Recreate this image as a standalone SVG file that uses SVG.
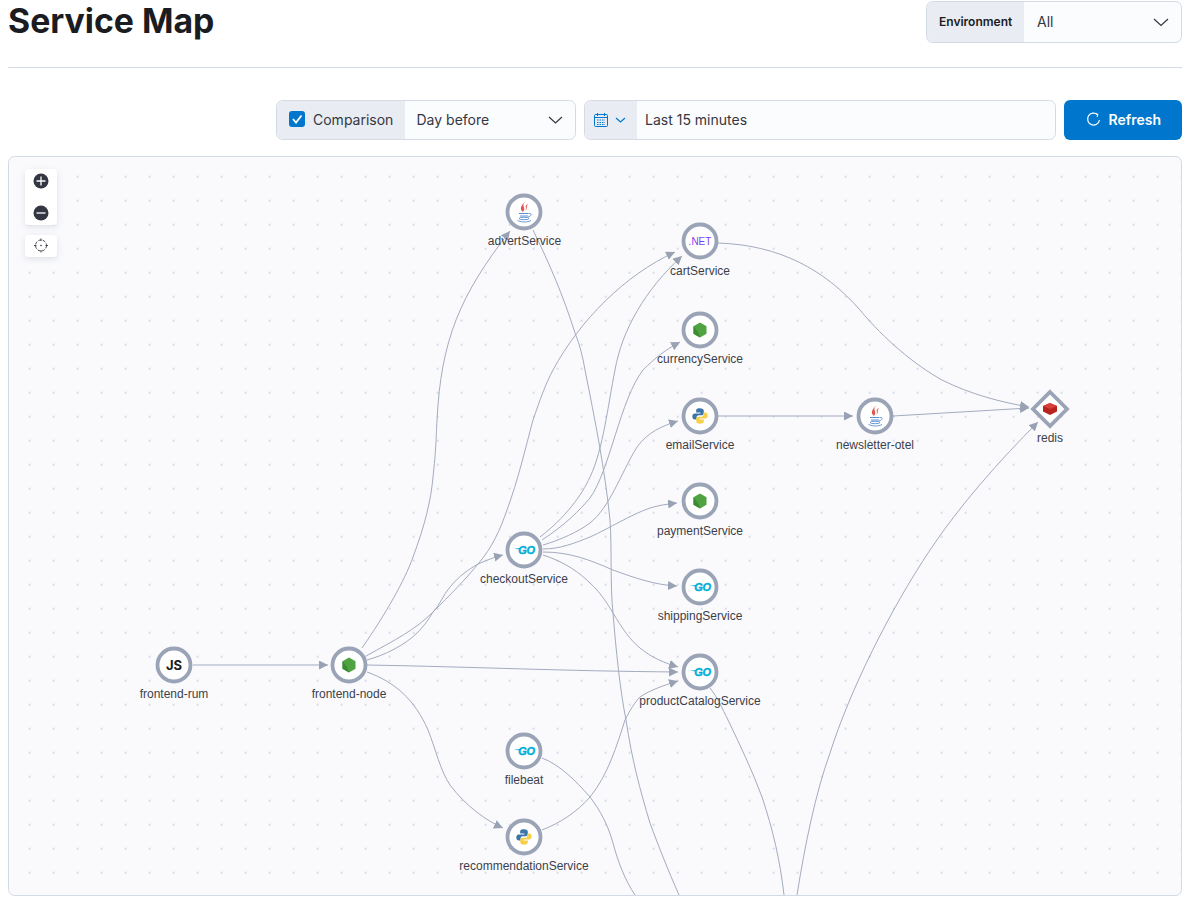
<svg xmlns="http://www.w3.org/2000/svg" width="1186" height="900" viewBox="0 0 1186 900">
<style>
.ui{font-family:Inter,"Liberation Sans",sans-serif;font-size:14px;fill:#343741}
.lbl{font-family:"Liberation Sans",Arial,sans-serif;font-size:12px;fill:#3c3f4a;text-anchor:middle}
.ring{fill:#fff;stroke:#9aa4b6;stroke-width:3.8}
.edge{fill:none;stroke:#a3abbd;stroke-width:1;marker-end:url(#arrow)}
.open{fill:none;stroke:#a3abbd;stroke-width:1}
.box{fill:#fbfcfd;stroke:#d3dae6;stroke-width:1}
.pre{fill:#e9edf3}
.chev{fill:none;stroke:#343741;stroke-width:1.2}
.go{font-family:"Liberation Sans",Arial,sans-serif;font-size:11px;font-weight:700;font-style:italic;fill:#00add8;stroke:#00add8;stroke-width:.35;text-anchor:middle;letter-spacing:-.2px}
.ctl{fill:#fff;filter:url(#sh)}
</style>
<defs>
<pattern id="dots" x="-6.3" y="-3.3" width="24" height="24" patternUnits="userSpaceOnUse"><circle cx="12" cy="12" r="1" fill="#cdd3e0"/></pattern>
<marker id="arrow" markerUnits="userSpaceOnUse" markerWidth="11" markerHeight="10" refX="9" refY="4.5" orient="auto"><path d="M0 0L9 4.500L0 9Z" fill="#98a2b3"/></marker>
<filter id="sh" x="-30%" y="-30%" width="160%" height="160%"><feDropShadow dx="0" dy="2" stdDeviation="3" flood-color="#98a2b3" flood-opacity="0.3"/></filter>
<g id="node-ic"><path d="M0-7.500L6.500-3.800V3.800L0 7.500L-6.500 3.800V-3.800Z" fill="#4fa341"/><path d="M0 7.500L-6.500 3.800V-3.800L-2 2Z" fill="#3d8a35"/></g>
<g id="java-ic"><path d="M2-10C-4-5 3-4-1 1C-5-2-3-6 2-10Z" fill="#e0574f"/><path d="M4-7C-1-5 4-3 1 0C4-2 2-4 4-7Z" fill="#e76f6a"/><path d="M-5 2.500H4.500M-4 5H4" stroke="#5b8fd0" stroke-width="1" fill="none"/><ellipse cx="0" cy="7.500" rx="5" ry="1.200" fill="none" stroke="#5b8fd0" stroke-width=".9"/><path d="M5 2.500C8 2 8 5 4 6M-6.500 9.500C-2 11.500 3 11.500 7 9.500" fill="none" stroke="#5b8fd0" stroke-width=".9"/></g>
<g id="py-ic"><g transform="scale(.85)"><path d="M-.5-9C-4-9-4.500-7.500-4.500-6V-4H.5V-3H-6C-8-3-9-1.500-9 .5S-8 4-6 4H-4V1.500C-4 0-3-1-1.500-1H2C3.500-1 4.500-2 4.500-3.500V-6C4.500-8 3-9-.5-9Z" fill="#3a76a8"/><path d="M.5 9C4 9 4.500 7.500 4.500 6V4H-.5V3H6C8 3 9 1.500 9-.5S8-4 6-4H4V-1.500C4 0 3 1 1.500 1H-2C-3.500 1-4.500 2-4.500 3.500V6C-4.500 8-3 9 .5 9Z" fill="#f7cf4b"/></g></g>
<g id="go-lines"><path d="M-10-1.200L-4-2V-.5Z" fill="#00add8"/></g>
</defs>

<rect width="1186" height="900" fill="#fff"/>
<text x="8" y="33" style="font-family:Inter,'Liberation Sans',sans-serif;font-size:33.800px;font-weight:700;fill:#1a1c21">Service Map</text>
<rect x="8" y="67" width="1174" height="1" fill="#d3dae6"/>

<g id="environment">
<rect class="box" x="926.500" y="1.500" width="255" height="41" rx="6"/>
<path class="pre" d="M1024 2V42H933a6 6 0 0 1-6-6V8a6 6 0 0 1 6-6Z"/>
<text class="ui" x="939" y="26" style="font-size:12px;font-weight:600;fill:#1a1c21">Environment</text>
<text class="ui" x="1037" y="27">All</text>
<path class="chev" d="M1154 19L1161 25.500L1168 19"/>
</g>

<g id="comparison">
<rect class="box" x="276.500" y="100.500" width="299" height="39" rx="6"/>
<path class="pre" d="M405 101V139H283a6 6 0 0 1-6-6V107a6 6 0 0 1 6-6Z"/>
<rect x="289" y="111" width="16" height="16" rx="3" fill="#0077cc"/>
<path d="M293 119L296 122.500L301.500 115.500" fill="none" stroke="#fff" stroke-width="1.800"/>
<text class="ui" x="313" y="125">Comparison</text>
<text class="ui" x="416.500" y="125">Day before</text>
<path class="chev" d="M549 117L555.500 123L562 117"/>
</g>

<g id="date">
<rect class="box" x="584.500" y="100.500" width="471" height="39" rx="6"/>
<path class="pre" d="M637 101V139H591a6 6 0 0 1-6-6V107a6 6 0 0 1 6-6Z"/>
<rect x="594.500" y="114.500" width="13" height="12" rx="1" fill="none" stroke="#0077cc"/>
<path d="M594.500 117.500H607.500M597.500 113V116M604.500 113V116" stroke="#0077cc" fill="none"/>
<path d="M597 120H605M597 122.500H605M597 124.500H605" stroke="#0077cc" stroke-dasharray="1.500 1" fill="none"/>
<path d="M616 118L620.500 122L625 118" fill="none" stroke="#0077cc" stroke-width="1.200"/>
<text class="ui" x="645" y="125">Last 15 minutes</text>
</g>

<g id="refresh">
<rect x="1064" y="100" width="118" height="40" rx="6" fill="#0077cc"/>
<path d="M1097.500 114.500A6 6 0 1 0 1099.500 120" fill="none" stroke="#fff" stroke-width="1.200"/>
<path d="M1095.500 113.500L1098 114.500L1097 117" fill="none" stroke="#fff" stroke-width="1"/>
<text class="ui" x="1108.500" y="125" style="font-weight:600;fill:#fff">Refresh</text>
</g>

<g id="canvas">
<rect x="8.500" y="156.500" width="1173" height="739" rx="6" fill="#fafafd" stroke="#d3dae6"/>
<rect x="9" y="157" width="1172" height="738" rx="6" fill="url(#dots)"/>
</g>

<g id="controls">
<rect class="ctl" x="25" y="169" width="32" height="56" rx="4"/>
<rect class="ctl" x="25" y="235" width="32" height="22" rx="4"/>
<circle cx="41" cy="181" r="7.500" fill="#343741"/><path d="M36.500 181H45.500M41 176.500V185.500" stroke="#fff" stroke-width="1.300"/>
<circle cx="41" cy="213" r="7.500" fill="#343741"/><path d="M36.500 213H45.500" stroke="#fff" stroke-width="1.300"/>
<circle cx="41" cy="245.500" r="5.500" fill="none" stroke="#343741" stroke-dasharray="3 1.500" stroke-width=".9"/><circle cx="41" cy="245.500" r=".8" fill="#343741"/><path d="M41 238.500V241M41 250V252.500M34 245.500H36.500M45.500 245.500H48" stroke="#343741" stroke-width=".9"/>
</g>

<g id="connectors">
<path class="edge" d="M193 665H328"/>
<path class="edge" d="M362 648C385 615 405 580 413 557C425 525 431 500 433 477C436 450 436 440 437 420C441 340 460 295 510 231"/>
<path class="edge" d="M366 656C395 640 415 630 433 612C450 595 465 580 478 564C492 548 500 530 507 510C518 480 525 450 533 420C540 400 545 385 553 370C580 320 625 275 675 252"/>
<path class="edge" d="M367 660C385 655 405 645 417 633C425 625 428 620 433 612C440 605 443 595 450 587C460 575 468 570 478 564C487 560 495 557 503 555"/>
<path class="edge" d="M367 665C480 667 560 671 678 672"/>
<path class="edge" d="M367 672C395 682 415 700 428 730C436 750 440 770 450 785C465 805 485 820 503 828"/>
<path class="edge" d="M540 537C565 518 582 495 590 477C603 450 608 405 615 370C622 330 645 290 682 256"/>
<path class="edge" d="M542 540C565 525 580 510 590 498C610 470 620 400 643 370C655 358 665 350 680 342"/>
<path class="edge" d="M543 545C560 540 578 532 590 523C610 507 620 475 637 447C648 432 662 426 678 421"/>
<path class="edge" d="M543 549C560 549 575 543 590 537C610 528 630 515 650 508C660 505 668 504 677 503"/>
<path class="edge" d="M543 552C570 552 590 560 613 570C635 578 655 585 677 586"/>
<path class="edge" d="M543 555C565 562 580 573 590 583C600 592 607 603 613 613C622 628 630 640 640 648C652 658 665 663 678 667"/>
<path class="edge" d="M542 830C560 823 577 812 590 797C608 775 617 745 625 720C630 710 635 702 640 697C650 690 665 685 678 681"/>
<path class="open" d="M533 230C550 265 563 295 575 333C580 345 583 358 585 370C595 420 605 470 610 520C612 550 610 585 613 613C616 650 620 690 626 720C632 760 640 790 650 823C658 845 668 870 679 895"/>
<path class="open" d="M542 758C560 765 575 780 590 797C600 810 608 825 613 843C618 862 625 880 635 895"/>
<path class="open" d="M710 688C718 698 722 708 728 720C740 745 752 770 762 797C773 830 780 860 784 895"/>
<path class="edge" d="M797 895C805 845 815 795 830 753C850 690 890 610 930 550C960 505 1000 460 1038 422"/>
<path class="edge" d="M718 243C780 245 825 270 860 310C885 340 915 365 942 380C970 394 1000 402 1029 407"/>
<path class="edge" d="M717 416H853"/>
<path class="edge" d="M893 416L1029 408"/>
</g>

<g id="frontend-rum"><circle class="ring" cx="174" cy="665" r="16.500"/><text x="174" y="670" text-anchor="middle" style="font-family:Inter,'Liberation Sans',sans-serif;font-size:13px;font-weight:700;fill:#1a1c21">JS</text><text class="lbl" x="174" y="698">frontend-rum</text></g>
<g id="frontend-node"><circle class="ring" cx="349" cy="665" r="16.500"/><use href="#node-ic" x="349" y="665"/><text class="lbl" x="349" y="698">frontend-node</text></g>
<g id="advertService"><circle class="ring" cx="524" cy="212" r="16.500"/><use href="#java-ic" x="524" y="211"/><text class="lbl" x="524.500" y="245">advertService</text></g>
<g id="cartService"><circle class="ring" cx="700" cy="241" r="16.500"/><text x="700" y="245" text-anchor="middle" style="font-family:'Liberation Sans',sans-serif;font-size:10px;fill:#7b3ff2">.NET</text><text class="lbl" x="700" y="275">cartService</text></g>
<g id="currencyService"><circle class="ring" cx="700" cy="330" r="16.500"/><use href="#node-ic" x="700" y="330"/><text class="lbl" x="700" y="363">currencyService</text></g>
<g id="emailService"><circle class="ring" cx="700" cy="416" r="16.500"/><use href="#py-ic" x="700" y="416"/><text class="lbl" x="700" y="449">emailService</text></g>
<g id="newsletter-otel"><circle class="ring" cx="875" cy="416" r="16.500"/><use href="#java-ic" x="875" y="415"/><text class="lbl" x="875" y="449">newsletter-otel</text></g>
<g id="redis"><path d="M1050 392L1067 409L1050 426L1033 409Z" fill="#fff" stroke="#9aa4b6" stroke-width="3.800"/><path d="M1043 406L1050 403L1057 406V411.500L1050 415L1043 411.500Z" fill="#b8231f"/><path d="M1043 406L1050 403L1057 406L1050 409Z" fill="#d8403a"/><text class="lbl" x="1050" y="442">redis</text></g>
<g id="paymentService"><circle class="ring" cx="700" cy="501" r="16.500"/><use href="#node-ic" x="700" y="501"/><text class="lbl" x="700" y="535">paymentService</text></g>
<g id="shippingService"><circle class="ring" cx="700" cy="587" r="16.500"/><use href="#go-lines" x="700" y="587"/><text class="go" x="702.500" y="591">GO</text><text class="lbl" x="700" y="620">shippingService</text></g>
<g id="checkoutService"><circle class="ring" cx="524" cy="550" r="16.500"/><use href="#go-lines" x="524" y="550"/><text class="go" x="526.500" y="554">GO</text><text class="lbl" x="524" y="583">checkoutService</text></g>
<g id="productCatalogService"><circle class="ring" cx="700" cy="672" r="16.500"/><use href="#go-lines" x="700" y="672"/><text class="go" x="702.500" y="676">GO</text><text class="lbl" x="700" y="705">productCatalogService</text></g>
<g id="filebeat"><circle class="ring" cx="524" cy="751" r="16.500"/><use href="#go-lines" x="524" y="751"/><text class="go" x="526.500" y="755">GO</text><text class="lbl" x="524" y="784">filebeat</text></g>
<g id="recommendationService"><circle class="ring" cx="524" cy="837" r="16.500"/><use href="#py-ic" x="524" y="837"/><text class="lbl" x="524" y="870">recommendationService</text></g>
</svg>
